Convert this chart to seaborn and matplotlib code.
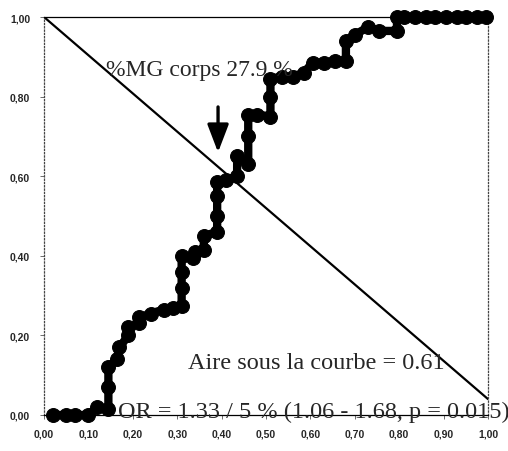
import matplotlib
matplotlib.use("Agg")
import matplotlib.pyplot as plt
import seaborn as sns

# ROC curve points (1 - specificity, sensitivity)
fpr = [0.02, 0.05, 0.07, 0.10, 0.12, 0.145, 0.145, 0.145, 0.165, 0.17,
       0.19, 0.19, 0.215, 0.215, 0.24, 0.27, 0.29, 0.31, 0.31, 0.31,
       0.31, 0.335, 0.34, 0.36, 0.36, 0.39, 0.39, 0.39, 0.39, 0.41,
       0.435, 0.435, 0.46, 0.46, 0.46, 0.48, 0.51, 0.51, 0.51, 0.535,
       0.56, 0.585, 0.605, 0.63, 0.655, 0.68, 0.68, 0.70, 0.73, 0.755,
       0.795, 0.795, 0.81, 0.835, 0.86, 0.88, 0.905, 0.93, 0.95, 0.975,
       0.995]
tpr = [0.0, 0.0, 0.0, 0.0, 0.02, 0.015, 0.07, 0.12, 0.14, 0.17,
       0.20, 0.22, 0.23, 0.245, 0.255, 0.265, 0.27, 0.275, 0.32, 0.36,
       0.40, 0.395, 0.41, 0.415, 0.45, 0.46, 0.50, 0.55, 0.585, 0.59,
       0.60, 0.65, 0.63, 0.70, 0.755, 0.755, 0.75, 0.80, 0.845, 0.85,
       0.85, 0.86, 0.885, 0.885, 0.89, 0.89, 0.94, 0.955, 0.975, 0.965,
       0.965, 1.0, 1.0, 1.0, 1.0, 1.0, 1.0, 1.0, 1.0, 1.0,
       1.0]

# reference line
ref_x = [0.0, 1.0]
ref_y = [1.0, 0.04]

x_ticks = [0.0, 0.1, 0.2, 0.3, 0.4, 0.5, 0.6, 0.7, 0.8, 0.9, 1.0]
x_labels = ["0,00", "0,10", "0,20", "0,30", "0,40", "0,50",
            "0,60", "0,70", "0,80", "0,90", "1,00"]
y_ticks = [0.0, 0.2, 0.4, 0.6, 0.8, 1.0]
y_labels = ["0,00", "0,20", "0,40", "0,60", "0,80", "1,00"]

cutoff_label = "%MG corps 27.9 %"
auc_label = "Aire sous la courbe = 0.61"
or_label = "OR = 1.33 / 5 % (1.06 - 1.68, p = 0.015)"

sns.set_style("white")
plt.rcParams['font.family'] = ['Liberation Serif', 'DejaVu Serif']

fig = plt.figure(figsize=(5.08, 4.52), dpi=100)
ax = fig.add_axes([44 / 508, 1 - 416 / 452, 444 / 508, 398 / 452])

sns.lineplot(x=fpr, y=tpr, sort=False, estimator=None, ax=ax,
             color="black", linewidth=6, marker="o", markersize=10,
             markeredgecolor="black", clip_on=False, zorder=3)
ax.plot(ref_x, ref_y, color="black", linewidth=1.6, zorder=2)

ax.set_xlim(0, 1)
ax.set_ylim(0, 1)
ax.set_xticks(x_ticks)
ax.set_xticklabels(x_labels, family="Liberation Sans", fontweight="bold",
                   fontsize=7.5)
ax.set_yticks(y_ticks)
ax.set_yticklabels(y_labels, family="Liberation Sans", fontweight="bold",
                   fontsize=7.5)
ax.tick_params(axis="both", length=3, width=0.6, color="#555555",
               direction="out", left=True, bottom=True, pad=7)

for side in ["left", "right"]:
    ax.spines[side].set_linestyle(":")
    ax.spines[side].set_color("#444444")
    ax.spines[side].set_linewidth(0.9)
ax.spines["top"].set_color("black")
ax.spines["top"].set_linewidth(0.9)
ax.spines["bottom"].set_color("black")
ax.spines["bottom"].set_linewidth(0.9)

ax.text(0.351, 0.869, cutoff_label, fontsize=17, ha="center", va="center")
ax.annotate("", xy=(0.392, 0.66), xytext=(0.392, 0.774),
            arrowprops=dict(arrowstyle="-|>,head_length=1.7,head_width=0.65",
                            mutation_scale=10, color="black", lw=2.4,
                            shrinkA=0, shrinkB=0))
ax.text(0.613, 0.133, auc_label, fontsize=17.5, ha="center", va="center")
ax.text(0.607, 0.01, or_label, fontsize=17.5, ha="center", va="center",
        clip_on=False)

fig.savefig("out.png", dpi=100)
